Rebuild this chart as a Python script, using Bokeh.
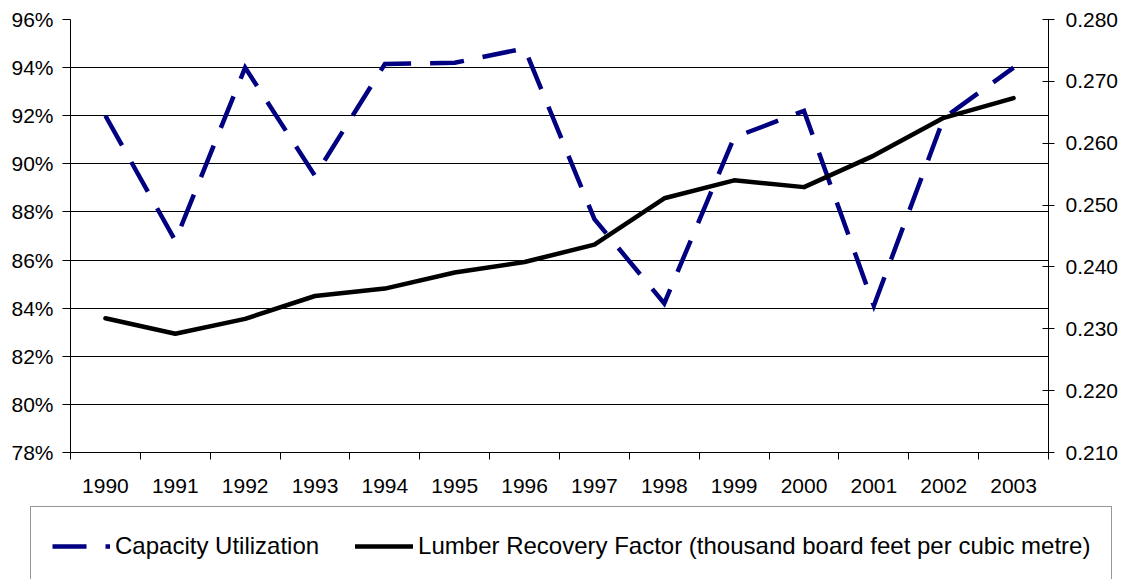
import numpy as np
from bokeh.plotting import figure
from bokeh.layouts import column
from bokeh.models import (Range1d, LinearAxis, FixedTicker, NumeralTickFormatter,
                          PrintfTickFormatter, CustomJSTickFormatter, Legend, LegendItem, Grid)
from bokeh.embed import file_html
from bokeh.resources import INLINE

# ---- data ----
years = ["1990", "1991", "1992", "1993", "1994", "1995", "1996",
         "1997", "1998", "1999", "2000", "2001", "2002", "2003"]
capacity_pct = [92.0, 86.8, 94.0, 89.5, 94.15, 94.2, 94.8,
                87.7, 84.2, 91.1, 92.2, 84.1, 91.9, 94.0]
recovery = [0.2317, 0.2292, 0.2316, 0.2353, 0.2365, 0.2391, 0.2408,
            0.2436, 0.2511, 0.2540, 0.2529, 0.2580, 0.2641, 0.2673]
left_ticks = [78, 80, 82, 84, 86, 88, 90, 92, 94, 96]
right_ticks = [0.21, 0.22, 0.23, 0.24, 0.25, 0.26, 0.27, 0.28]
series_names = ["Capacity Utilization",
                "Lumber Recovery Factor (thousand board feet per cubic metre)"]

FONT = "Liberation Sans"
CU_STYLE = dict(line_color="#000080", line_width=4.5, line_dash="34 19",
                line_join="miter", line_cap="butt")
LRF_STYLE = dict(line_color="black", line_width=4.5, line_join="round", line_cap="round")

n = len(years)
xc = (np.arange(n) + 0.5).tolist()      # category centres
xb = np.arange(n + 1).tolist()          # category boundaries

p = figure(width=1121, height=500, output_backend="svg", toolbar_location=None,
           x_range=Range1d(0, n), y_range=Range1d(left_ticks[0], left_ticks[-1]),
           x_axis_type=None, y_axis_type=None,
           min_border_left=70, min_border_right=72, min_border_top=19, min_border_bottom=48)
p.extra_y_ranges = {"lrf": Range1d(right_ticks[0], right_ticks[-1])}
p.outline_line_color = None
p.background_fill_color = "white"
p.border_fill_color = "white"
p.frame_align = False

yl = LinearAxis(ticker=FixedTicker(ticks=left_ticks),
                formatter=PrintfTickFormatter(format="%d%%"),
                major_tick_out=8, major_tick_in=0, minor_tick_out=0, minor_tick_in=0,
                major_label_standoff=9, major_label_text_font=FONT,
                major_label_text_font_size="21px", major_label_text_color="black",
                axis_line_color="black", major_tick_line_color="black")
p.add_layout(yl, "left")

yr = LinearAxis(y_range_name="lrf", ticker=FixedTicker(ticks=right_ticks),
                formatter=NumeralTickFormatter(format="0.000"),
                major_tick_out=6, major_tick_in=6, minor_tick_out=0, minor_tick_in=0,
                major_label_standoff=11, major_label_text_font=FONT,
                major_label_text_font_size="21px", major_label_text_color="black",
                axis_line_color="black", major_tick_line_color="black")
p.add_layout(yr, "right")

xa = LinearAxis(ticker=FixedTicker(ticks=xc, minor_ticks=xb),
                formatter=CustomJSTickFormatter(args=dict(years=years),
                                                code="return years[Math.floor(tick)] || '';"),
                major_tick_out=0, major_tick_in=0, minor_tick_out=7, minor_tick_in=0,
                major_label_standoff=19, major_label_text_font=FONT,
                major_label_text_font_size="21px", major_label_text_color="black",
                axis_line_color="black", minor_tick_line_color="black")
p.add_layout(xa, "below")

p.add_layout(Grid(dimension=1, ticker=FixedTicker(ticks=left_ticks),
                  grid_line_color="black", grid_line_width=1))

p.line(xc, capacity_pct, **CU_STYLE)
p.line(xc, recovery, y_range_name="lrf", **LRF_STYLE)

# ---- legend strip below the chart (its own canvas so the box may span the full width) ----
lg = figure(width=1121, height=79, output_backend="svg", toolbar_location=None,
            x_range=Range1d(-2, -1), y_range=Range1d(-2, -1),
            x_axis_type=None, y_axis_type=None,
            min_border_left=0, min_border_right=0, min_border_top=0, min_border_bottom=0)
lg.frame_align = False
lg.outline_line_color = None
lg.background_fill_color = "white"
lg.border_fill_color = "white"
# key renderers: same series, lying outside this strip's ranges, used only for the legend swatches
k1 = lg.line(xc, capacity_pct, **CU_STYLE)
k2 = lg.line(xc, recovery, **LRF_STYLE)

legend = Legend(items=[LegendItem(label=series_names[0], renderers=[k1]),
                       LegendItem(label=series_names[1], renderers=[k2])],
                location=(30, -7), orientation="horizontal",
                margin=0, padding=21, spacing=36, label_standoff=5,
                glyph_width=58, glyph_height=36, label_height=36,
                label_text_font=FONT, label_text_font_size="24px",
                label_text_color="black", border_line_color="#303030",
                border_line_width=1, background_fill_color="white", background_fill_alpha=1)
lg.add_layout(legend)

layout = column(p, lg, spacing=0)
open("out.html", "w").write(file_html(layout, INLINE))
